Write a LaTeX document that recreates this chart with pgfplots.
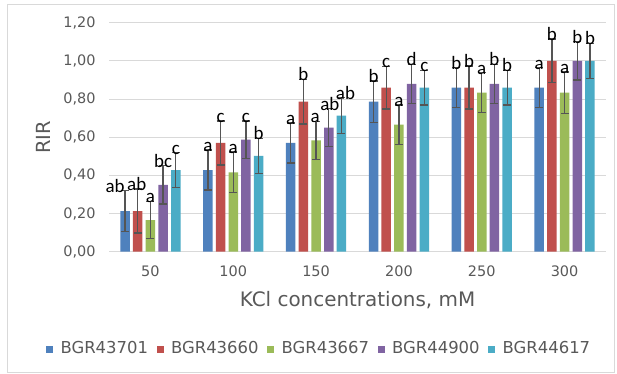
\documentclass[border=0pt]{standalone}
\usepackage{fontspec}
\setmainfont{DejaVu Sans}
\newfontfamily\labfont{Carlito}
\usepackage{pgfplots}
\usepackage{pgfplotstable}
\pgfplotsset{compat=1.18}
\definecolor{cA}{HTML}{4F81BD}
\definecolor{cB}{HTML}{C0504D}
\definecolor{cC}{HTML}{9BBB59}
\definecolor{cD}{HTML}{8064A2}
\definecolor{cE}{HTML}{4BACC6}
\definecolor{gridc}{HTML}{D9D9D9}
\definecolor{txtc}{HTML}{595959}
\definecolor{errc}{HTML}{555555}

\pgfplotstableread{
x y ey lab dx
0 0.213 0.107 ab -10
1 0.428 0.105 a 0
2 0.570 0.105 a 0
3 0.786 0.108 b 0
4 0.860 0.105 b 0
5 0.860 0.105 a 0
}\tA
\pgfplotstableread{
x y ey lab dx
0 0.213 0.115 ab -1
1 0.570 0.115 c 0
2 0.786 0.117 b 0
3 0.860 0.112 c 0
4 0.860 0.113 b 0
5 1.000 0.115 b 0
}\tB
\pgfplotstableread{
x y ey lab dx
0 0.166 0.098 a 0
1 0.416 0.106 a 0
2 0.584 0.100 a -1
3 0.666 0.103 a 0
4 0.833 0.105 a 0
5 0.833 0.108 a 0
}\tC
\pgfplotstableread{
x y ey lab dx
0 0.350 0.100 bc 0
1 0.587 0.098 c 0
2 0.650 0.100 ab 1
3 0.880 0.102 d 0
4 0.880 0.102 b 0
5 1.000 0.100 b 0
}\tD
\pgfplotstableread{
x y ey lab dx
0 0.428 0.091 c 0
1 0.502 0.092 b 0
2 0.713 0.094 ab 4
3 0.860 0.091 c 0
4 0.860 0.091 b 0
5 1.000 0.092 b 0
}\tE

\begin{document}
\begin{tikzpicture}
\fill[white] (0,0) rectangle (617bp,374bp);
\useasboundingbox (0,0) rectangle (617bp,374bp);
\draw[gridc, line width=0.8bp] (7bp,2bp) rectangle (614bp,370bp);
\begin{axis}[
  at={(109bp,122.3bp)}, anchor=south west,
  scale only axis, width=497bp, height=229bp,
  ybar=3.2bp, bar width=9.5bp,
  xmin=-0.5, xmax=5.5, ymin=0, ymax=1.2,
  xtick={0,1,2,3,4,5},
  xticklabels={50,100,150,200,250,300},
  ytick={0,0.2,0.4,0.6,0.8,1.0,1.2},
  yticklabels={{0,00},{0,20},{0,40},{0,60},{0,80},{1,00},{1,20}},
  minor tick num=0,
  xmajorgrids=false, xminorgrids=false, yminorgrids=false,
  ymajorgrids, grid style={gridc, line width=1bp},
  axis line style={draw=none},
  major tick length=0pt, minor tick length=0pt,
  tick style={draw=none},
  tick label style={font=\fontsize{14.5}{16}\selectfont, text=txtc},
  xticklabel style={yshift=-11bp},
  yticklabel style={xshift=-10bp},
  xlabel={KCl concentrations, mM},
  xlabel style={at={(axis description cs:0.5,0)}, anchor=base, yshift=-55bp, font=\fontsize{20}{24}\selectfont, text=txtc},
  ylabel={RIR},
  ylabel style={at={(axis description cs:-0.1314,0.5)}, anchor=center, font=\fontsize{19.5}{23}\selectfont, text=txtc},
  point meta=explicit symbolic,
  nodes near coords,
  visualization depends on={190.83*\thisrow{ey}-1.5 \as \eysh},
  visualization depends on={\thisrow{dx} \as \dxsh},
  every node near coord/.append style={anchor=base, inner sep=0pt, yshift=\eysh bp, xshift=\dxsh bp, font=\labfont\fontsize{19}{22}\selectfont, text=black},
  error bars/y dir=both, error bars/y explicit,
  error bars/error bar style={errc, line width=1.3bp},
  error bars/error mark options={errc, rotate=90, mark size=4bp, line width=1.3bp},
  legend columns=-1,
  legend style={at={(rel axis cs:-0.1268,-0.4227)}, anchor=west, draw=none, fill=none, inner sep=0pt,
    font=\fontsize{16.5}{19}\selectfont, text=txtc,
    nodes={inner sep=0pt},
    /tikz/every odd column/.append style={column sep=7.4bp},
    /tikz/every even column/.append style={column sep=8.7bp}},
  legend image code/.code={\fill[#1] (0bp,-4.5bp) rectangle (7bp,2.5bp);},
]
\addplot[fill=cA, draw=none] table[x=x, y=y, y error=ey, meta=lab] {\tA};
\addplot[fill=cB, draw=none] table[x=x, y=y, y error=ey, meta=lab] {\tB};
\addplot[fill=cC, draw=none] table[x=x, y=y, y error=ey, meta=lab] {\tC};
\addplot[fill=cD, draw=none] table[x=x, y=y, y error=ey, meta=lab] {\tD};
\addplot[fill=cE, draw=none] table[x=x, y=y, y error=ey, meta=lab] {\tE};
\legend{BGR43701,BGR43660,BGR43667,BGR44900,BGR44617}
\end{axis}
\end{tikzpicture}
\end{document}
